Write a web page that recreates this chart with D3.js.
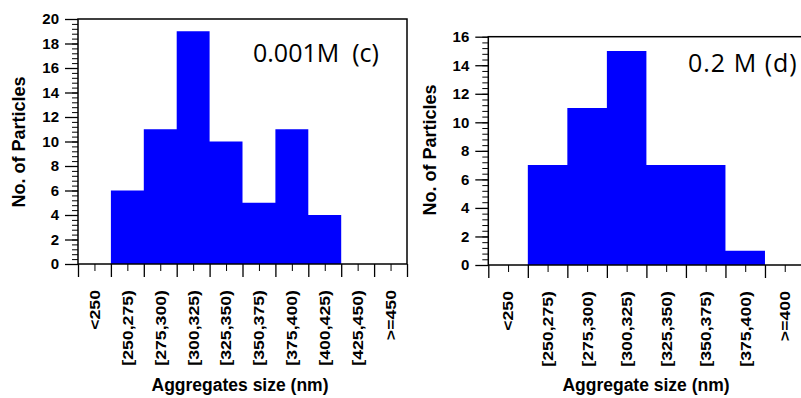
<!DOCTYPE html>
<html lang="en">
<head>
<meta charset="utf-8">
<script src="https://d3js.org/d3.v7.min.js"></script>
<style>
  body { margin: 0; background: #fff; }
  svg { display: block; }
  .domain { display: none; }
</style>
</head>
<body>
<script>
// left panel: 0.001M (c)
var binsC = ["<250", "[250,275)", "[275,300)", "[300,325)", "[325,350)", "[350,375)", "[375,400)", "[400,425)", "[425,450)", ">=450"];
var countsC = [0, 6, 11, 19, 10, 5, 11, 4, 0, 0];
// right panel: 0.2 M (d)
var binsD = ["<250", "[250,275)", "[275,300)", "[300,325)", "[325,350)", "[350,375)", "[375,400)", ">=400"];
var countsD = [0, 7, 11, 15, 7, 7, 1, 0];

var svg = d3.select("body").append("svg")
    .attr("width", 801)
    .attr("height", 398);

var FONT = "Liberation Sans, Arial, sans-serif";

function panel(cfg) {
    var n = cfg.bins.length;
    var x = d3.scaleBand().domain(cfg.bins).range([cfg.x0, cfg.x1]).padding(0);
    var xi = d3.scaleLinear().domain([0, n]).range([cfg.x0, cfg.x1]);
    var y = d3.scaleLinear().domain([0, cfg.ymax]).range([cfg.y0, cfg.y1]);
    var g = svg.append("g");

    // histogram as one stepped area, so no seams between bins
    var steps = cfg.counts.map(function(c, i) { return [i, c]; });
    steps.push([n, cfg.counts[n - 1]]);
    g.append("path")
        .datum(steps)
        .attr("fill", "#0000ff")
        .attr("d", d3.area()
            .x(function(d) { return xi(d[0]); })
            .y0(y(0))
            .y1(function(d) { return y(d[1]); })
            .curve(d3.curveStepAfter));

    // frame
    g.append("rect")
        .attr("x", cfg.x0).attr("y", cfg.y1)
        .attr("width", cfg.x1 - cfg.x0).attr("height", cfg.y0 - cfg.y1)
        .attr("fill", "none").attr("stroke", "#000").attr("stroke-width", 1.5);

    // y axis: minor + major ticks
    g.append("g").attr("transform", "translate(" + cfg.x0 + ",0)")
        .call(d3.axisLeft(y).tickValues(d3.range(0, cfg.ymax + 0.01, 0.4)).tickSize(6).tickFormat(""))
        .selectAll("line").attr("stroke-width", 1);
    var ya = g.append("g").attr("transform", "translate(" + cfg.x0 + ",0)")
        .call(d3.axisLeft(y).tickValues(d3.range(0, cfg.ymax + 1, 2)).tickSize(13).tickPadding(6))
        .attr("font-size", 15).attr("font-weight", "bold").attr("font-family", FONT);
    ya.selectAll("line").attr("stroke-width", 1.3);

    // x axis: major ticks on bin edges, minor on bin centres
    g.append("g").attr("transform", "translate(0," + cfg.y0 + ")")
        .call(d3.axisBottom(xi).tickValues(d3.range(0, n + 1)).tickSize(13).tickFormat(""))
        .selectAll("line").attr("stroke-width", 1.3);
    g.append("g").attr("transform", "translate(0," + cfg.y0 + ")")
        .call(d3.axisBottom(xi).tickValues(d3.range(0.5, n, 1)).tickSize(7).tickFormat(""))
        .selectAll("line").attr("stroke-width", 1);

    // category labels, rotated (a little stretched along the text, as in the source)
    var lab = g.append("g").attr("transform", "translate(0," + cfg.y0 + ")")
        .call(d3.axisBottom(x).tickSize(0).tickPadding(0))
        .attr("font-size", 15).attr("font-weight", "bold").attr("font-family", FONT);
    lab.selectAll("text")
        .attr("transform", "translate(0,26) rotate(-90) scale(1.18,1)")
        .attr("x", 0).attr("y", 0)
        .attr("dy", "0.36em")
        .style("text-anchor", "end");

    // axis titles
    svg.append("text")
        .attr("transform", "translate(" + cfg.ytx + "," + cfg.yty + ") rotate(-90)")
        .attr("text-anchor", "middle")
        .attr("dy", "0.36em")
        .attr("font-family", FONT)
        .attr("font-weight", "bold").attr("font-size", 18)
        .text("No. of Particles");
    svg.append("text")
        .attr("x", cfg.xtx).attr("y", 391)
        .attr("text-anchor", "middle")
        .attr("font-family", FONT)
        .attr("font-weight", "bold").attr("font-size", 17.5)
        .text(cfg.xtitle);

    // panel label
    svg.append("text")
        .attr("x", cfg.lx).attr("y", cfg.ly)
        .attr("font-family", "Open Sans, sans-serif")
        .attr("font-size", 25)
        .attr("letter-spacing", cfg.ls)
        .style("white-space", "pre")
        .text(cfg.label);
}

panel({bins: binsC, counts: countsC, x0: 78, x1: 407, y0: 264, y1: 19, ymax: 20,
       ytx: 19, yty: 142, xtx: 240, xtitle: "Aggregates size (nm)",
       lx: 253, ly: 62, ls: 0, label: "0.001M  (c)"});
panel({bins: binsD, counts: countsD, x0: 488.3, x1: 804.5, y0: 265, y1: 36.7, ymax: 16,
       ytx: 430, yty: 150, xtx: 646, xtitle: "Aggregate size (nm)",
       lx: 688, ly: 72, ls: 1, label: "0.2 M (d)"});
</script>
</body>
</html>
